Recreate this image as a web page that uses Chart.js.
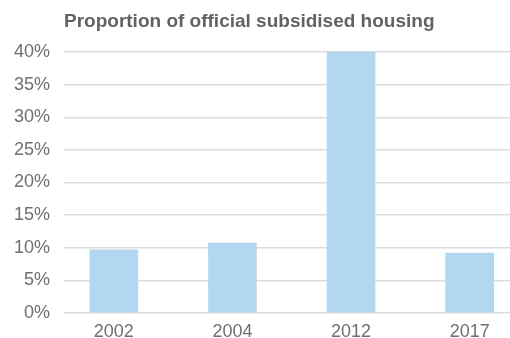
<!DOCTYPE html>
<html>
<head>
<meta charset="utf-8">
<script src="https://cdn.jsdelivr.net/npm/chart.js@4"></script>
<style>
  html, body { margin: 0; padding: 0; background: #fff; overflow: hidden; }
  #wrap { position: relative; width: 510px; height: 338px; }
  #title {
    position: absolute; left: 64px; top: 10px;
    font: bold 19px "Liberation Sans", Arial, sans-serif;
    color: #636363; white-space: nowrap;
  }
</style>
</head>
<body>
<div id="wrap">
  <div id="title">Proportion of official subsidised housing</div>
  <canvas id="chart" width="510" height="338"></canvas>
</div>
<script>
var years = ['2002', '2004', '2012', '2017'];
var shares = [9.7, 10.7, 40, 9.2];
var yTicks = [0, 5, 10, 15, 20, 25, 30, 35, 40];

function renderChart(name) {
    var ctx = document.getElementById(name).getContext('2d');
    var points = shares.map(function (v, i) { return { x: i, y: v }; });
    var myChart = new Chart(ctx, {
        type: 'bar',
        data: {
            datasets: [{
                label: 'Subsidised housing',
                data: points,
                backgroundColor: '#b3d7f1',
                borderWidth: 0,
                barThickness: 48
            }]
        },
        options: {
            responsive: false,
            animation: false,
            layout: { padding: { top: 52, right: 0, bottom: 0, left: 0 } },
            plugins: { legend: { display: false }, tooltip: { enabled: false } },
            scales: {
                x: {
                    type: 'linear',
                    offset: false,
                    min: -0.42,
                    max: 3.34,
                    grid: { display: false },
                    border: { display: false },
                    afterFit: function (scale) { scale.height = 25; },
                    afterBuildTicks: function (scale) {
                        scale.ticks = years.map(function (y, i) { return { value: i }; });
                    },
                    ticks: {
                        padding: 0,
                        maxRotation: 0,
                        color: '#6f6f6f',
                        font: { family: 'Liberation Sans', size: 18 },
                        callback: function (value) { return years[value]; }
                    }
                },
                y: {
                    min: 0,
                    max: 40,
                    afterFit: function (scale) { scale.width = 64; },
                    afterBuildTicks: function (scale) {
                        scale.ticks = yTicks.map(function (v) { return { value: v }; });
                    },
                    grid: { color: '#dcdcdc', lineWidth: 1.5, drawTicks: false },
                    border: { display: false },
                    ticks: {
                        padding: 14,
                        color: '#6f6f6f',
                        font: { family: 'Liberation Sans', size: 18 },
                        callback: function (value) { return value + '%'; }
                    }
                }
            }
        }
    });
}

renderChart('chart');
</script>
</body>
</html>
